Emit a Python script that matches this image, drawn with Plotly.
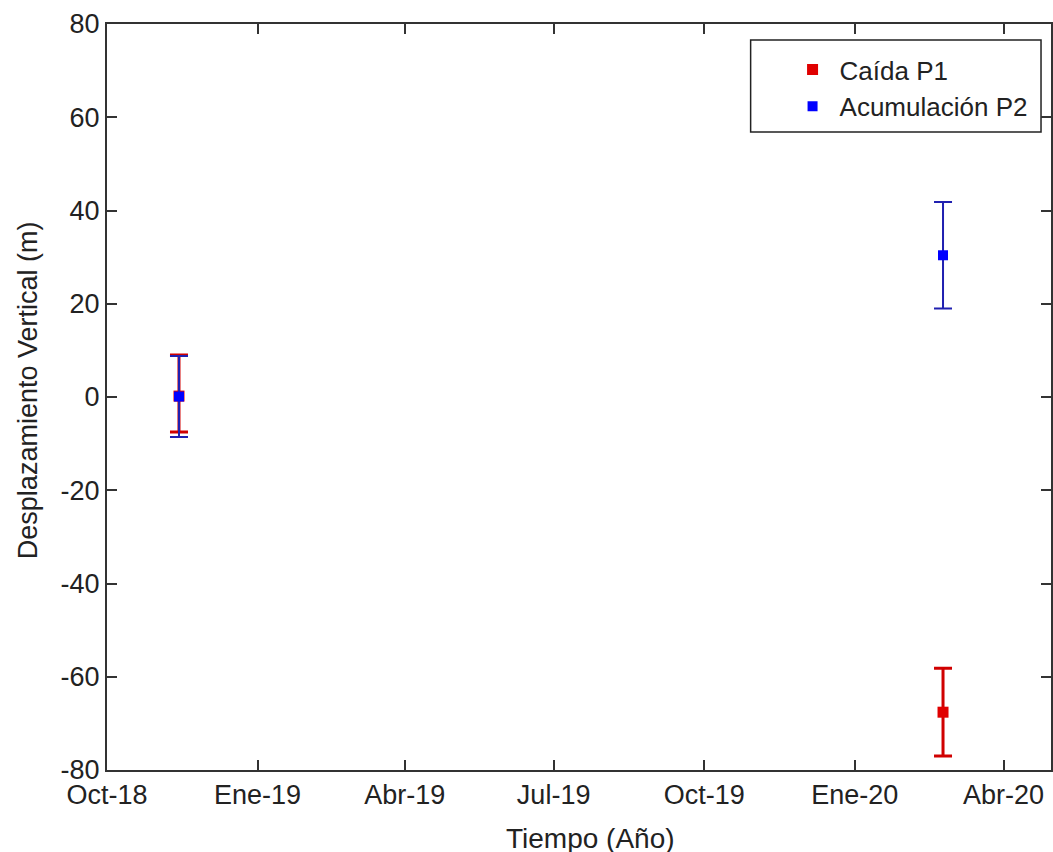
import plotly.graph_objects as go

# Data
dates = ["2018-11-14", "2020-02-24"]
p1_values = [0.2, -67.6]
p1_err_plus = [8.8, 9.4]
p1_err_minus = [7.7, 9.4]
p2_values = [0.1, 30.4]
p2_errors = [8.7, 11.4]
series_names = ["Caída P1", "Acumulación P2"]
x_tickvals = ["2018-10-01", "2019-01-01", "2019-04-01", "2019-07-01",
              "2019-10-01", "2020-01-01", "2020-04-01"]
x_ticktext = ["Oct-18", "Ene-19", "Abr-19", "Jul-19", "Oct-19", "Ene-20", "Abr-20"]
y_tickvals = [-80, -60, -40, -20, 0, 20, 40, 60, 80]
y_ticktext = ["-80", "-60", "-40", "-20", "0", "20", "40", "60", "80"]

FONT = "Liberation Sans, Arial, sans-serif"
AX = "#333333"
TXT = "#222222"

# plot area in pixels: x 107..1053, y 24..770
def px(xp):
    return (xp - 107) / 946.0

def py(yp):
    return (770 - yp) / 746.0

fig = go.Figure()
fig.add_trace(go.Scatter(
    x=dates, y=p1_values, mode="markers", name=series_names[0],
    marker=dict(symbol="square", size=11, color="#e00000"),
    error_y=dict(type="data", array=p1_err_plus, arrayminus=p1_err_minus,
                 symmetric=False, visible=True,
                 color="#d00000", thickness=3, width=9),
))
fig.add_trace(go.Scatter(
    x=dates, y=p2_values, mode="markers", name=series_names[1],
    marker=dict(symbol="square", size=10, color="#0000ff"),
    error_y=dict(type="data", array=p2_errors, visible=True,
                 color="#2020b0", thickness=2, width=9),
))

fig.update_layout(
    width=1053, height=852,
    margin=dict(l=107, r=0, t=24, b=82),
    paper_bgcolor="white", plot_bgcolor="white",
    font=dict(family=FONT, size=27, color=TXT),
    showlegend=True,
    legend=dict(
        x=px(787), y=py(46), xanchor="left", yanchor="top",
        bgcolor="rgba(0,0,0,0)", borderwidth=0,
        font=dict(family=FONT, size=26, color=TXT),
        itemwidth=44,
    ),
    shapes=[
        dict(type="rect", xref="paper", yref="paper",
             x0=px(752), x1=px(1043), y0=py(132), y1=py(40),
             line=dict(color=TXT, width=1.5), fillcolor="white", layer="below"),
    ],
    xaxis=dict(
        type="date", range=["2018-10-01", "2020-04-30"],
        tickvals=x_tickvals, ticktext=x_ticktext,
        ticks="inside", ticklen=10, tickwidth=1.5, tickcolor=AX,
        showline=True, linecolor=AX, linewidth=2, mirror="ticks",
        showgrid=False, zeroline=False,
        tickfont=dict(family=FONT, size=27, color=TXT),
    ),
    yaxis=dict(
        range=[-80, 80], tickvals=y_tickvals, ticktext=y_ticktext,
        ticks="inside", ticklen=10, tickwidth=1.5, tickcolor=AX,
        showline=True, linecolor=AX, linewidth=2, mirror="ticks",
        showgrid=False, zeroline=False,
        tickfont=dict(family=FONT, size=27, color=TXT),
    ),
    annotations=[
        dict(text="Tiempo (Año)", xref="paper", yref="paper",
             x=px(592), y=py(838), xanchor="center", yanchor="middle",
             showarrow=False, font=dict(family=FONT, size=28, color=TXT)),
        dict(text="Desplazamiento Vertical (m)", xref="paper", yref="paper",
             x=px(28), y=py(390), xanchor="center", yanchor="middle",
             textangle=-90, showarrow=False,
             font=dict(family=FONT, size=27, color=TXT)),
    ],
)

fig.write_html("out.html")
